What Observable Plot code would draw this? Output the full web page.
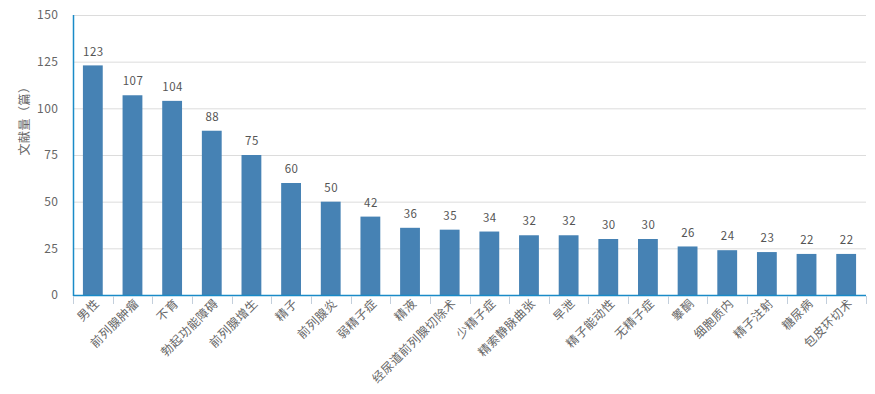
<!DOCTYPE html>
<html>
<head>
<meta charset="utf-8">
<script src="https://cdn.jsdelivr.net/npm/d3@7"></script>
<script src="https://cdn.jsdelivr.net/npm/@observablehq/plot@0.6"></script>
<style>
  html, body { margin: 0; padding: 0; background: #fff; }
  #chart svg { display: block; }
</style>
</head>
<body>
<div id="chart"></div>
<script>
const categories = ["男性", "前列腺肿瘤", "不育", "勃起功能障碍", "前列腺增生", "精子", "前列腺炎", "弱精子症", "精液", "经尿道前列腺切除术", "少精子症", "精索静脉曲张", "早泄", "精子能动性", "无精子症", "睾酮", "细胞质内", "精子注射", "糖尿病", "包皮环切术"];
const counts = [123, 107, 104, 88, 75, 60, 50, 42, 36, 35, 34, 32, 32, 30, 30, 26, 24, 23, 22, 22];
const yTicks = [0, 25, 50, 75, 100, 125, 150];
const yLabel = "文献量（篇）";

const data = categories.map((c, i) => ({category: c, value: counts[i]}));

const axisBlue = "#1a8bc8";
const font = "'Noto Sans CJK SC', 'Noto Sans', sans-serif";

function axisDecor(index, scales, values, dimensions) {
  const {width, height, marginLeft, marginRight, marginTop, marginBottom} = dimensions;
  const n = categories.length;
  const step = (width - marginLeft - marginRight) / n;
  const y0 = height - marginBottom;
  const g = d3.create("svg:g");
  for (let i = 0; i <= n; i++) {
    const x = Math.round(marginLeft + i * step) + 0.5;
    g.append("line").attr("x1", x).attr("x2", x).attr("y1", y0 + 1).attr("y2", y0 + 9)
      .attr("stroke", "#c3cfdc").attr("stroke-width", 1);
  }
  g.append("line").attr("x1", marginLeft + 0.5).attr("x2", marginLeft + 0.5)
    .attr("y1", marginTop).attr("y2", y0 + 1).attr("stroke", axisBlue).attr("stroke-width", 1.5);
  return g.node();
}

const chart = Plot.plot({
  width: 875,
  height: 394,
  marginLeft: 73,
  marginRight: 9,
  marginTop: 15,
  marginBottom: 99,
  style: {fontFamily: font, fontSize: "12px", color: "#666", background: "#fff"},
  x: {domain: categories, paddingInner: 0.5, paddingOuter: 0.25, round: false, label: null},
  y: {domain: [0, 150], label: null},
  marks: [
    Plot.ruleY(yTicks, {stroke: "#dcdcdc", strokeWidth: 1}),
    Plot.axisY({ticks: yTicks, tickSize: 0, tickPadding: 15, label: null, fill: "#666", fontSize: 12}),
    Plot.axisX({tickSize: 0, tickPadding: 6, tickRotate: -45, label: null, fill: "#666", fontSize: 12, dx: 4}),
    Plot.barY(data, {x: "category", y: "value", fill: "#4682b4"}),
    Plot.ruleY([0], {stroke: axisBlue, strokeWidth: 1.5}),
    Plot.text(data, {x: "category", y: "value", text: d => String(d.value), dy: -14, fill: "#555", fontSize: 11.5}),
    Plot.text([yLabel], {frameAnchor: "left", rotate: -90, dx: -48, fill: "#666", fontSize: 12}),
    axisDecor
  ]
});
chart.querySelectorAll("text").forEach(t => t.style.letterSpacing = "0.5px");
document.getElementById("chart").appendChild(chart);
</script>
</body>
</html>
